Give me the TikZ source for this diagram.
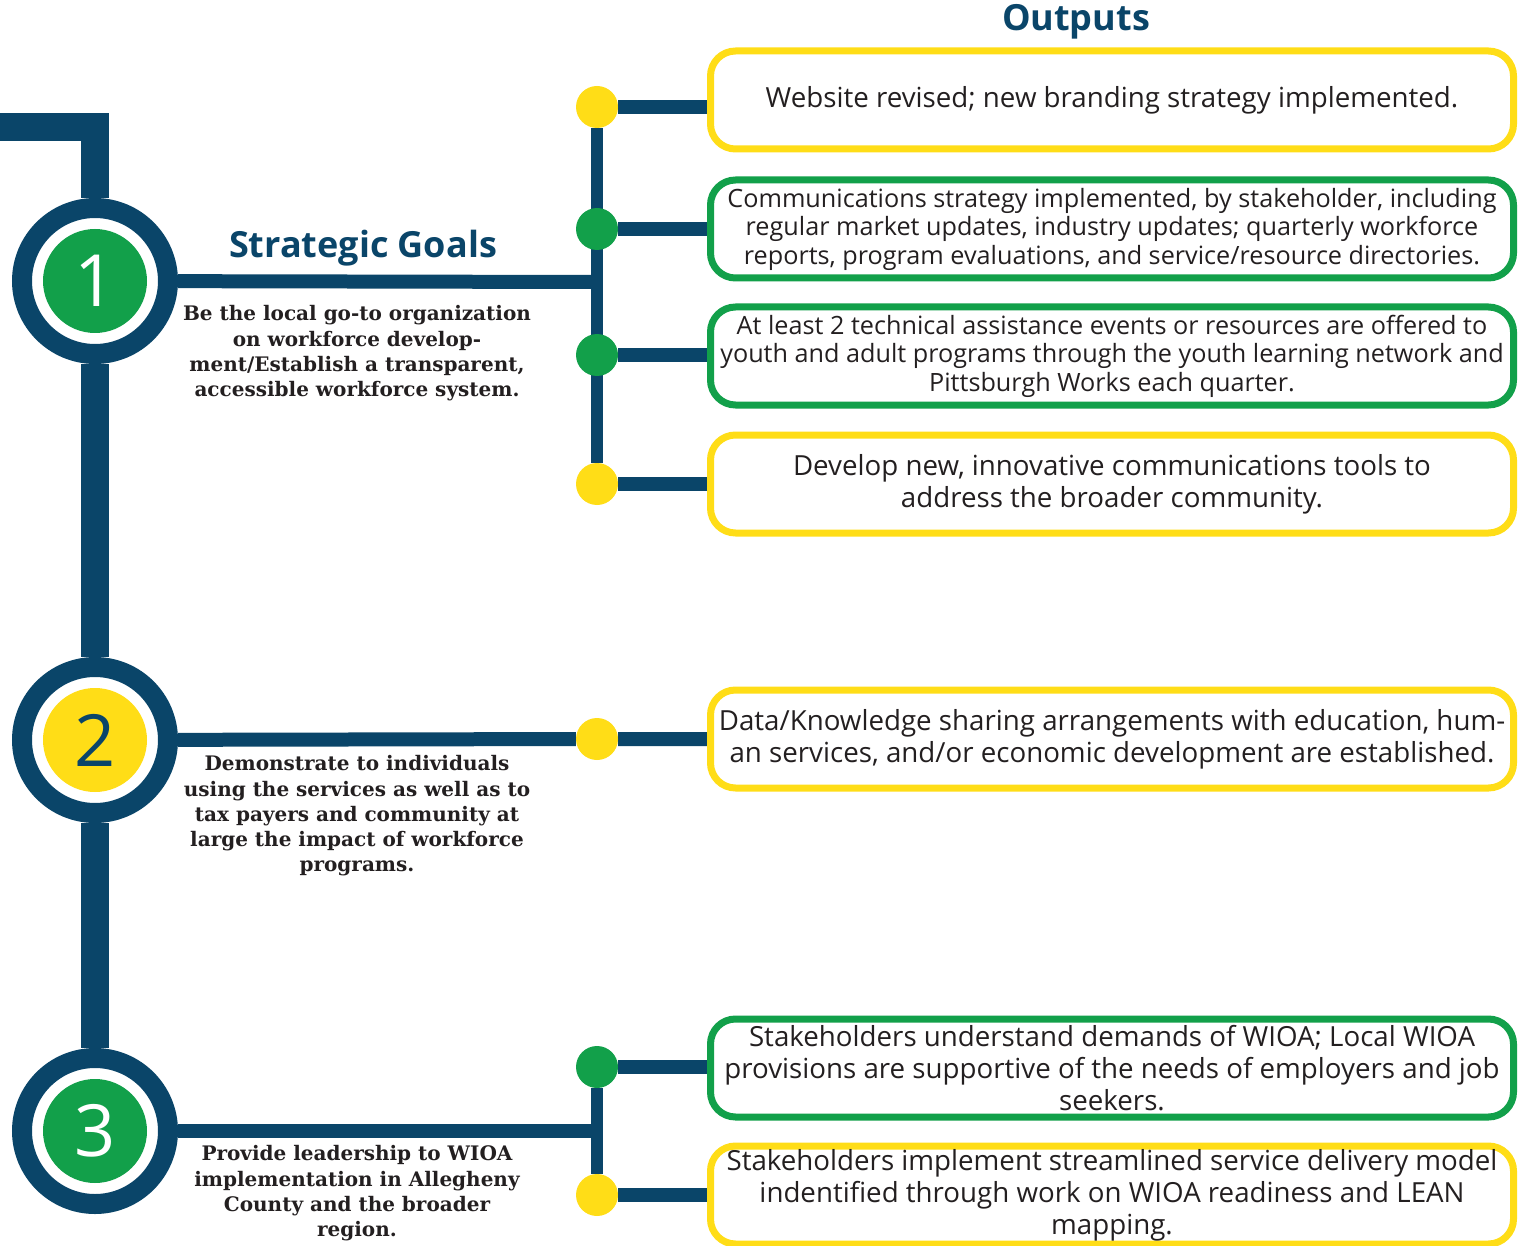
\documentclass[tikz,border=0pt]{standalone}
\usepackage{fontspec}
\setmainfont{DejaVu Serif}
\setsansfont{Open Sans}
\newfontfamily\headfont{Open Sans}
\usetikzlibrary{positioning,backgrounds}
\definecolor{navy}{RGB}{10,69,105}
\definecolor{leaf}{RGB}{18,160,74}
\definecolor{sun}{RGB}{255,221,23}
\definecolor{ink}{RGB}{35,31,32}

\begin{document}
\begin{tikzpicture}[x=1pt,y=-1pt,
  ring/.style={circle,draw=navy,line width=20pt,fill=white,minimum size=146pt,inner sep=0pt},
  num/.style={circle,minimum size=104pt,inner sep=0pt,font=\headfont\fontsize{72}{72}\selectfont},
  dot/.style={circle,minimum size=42pt,inner sep=0pt},
  outbox/.style={rounded corners=25pt,line width=7pt,minimum width=803pt,minimum height=98pt,align=center,text=ink,inner sep=0pt,font=\sffamily\fontsize{27.7}{32}\selectfont},
  smallbox/.style={font=\sffamily\fontsize{25.2}{28.5}\selectfont},
  goal/.style={align=center,anchor=north,text=ink,font=\bfseries\fontsize{20}{25.3}\selectfont},
  head/.style={text=navy,font=\headfont\bfseries\fontsize{36}{40}\selectfont},
  spine/.style={navy,line width=28pt},
  link/.style={navy,line width=14pt},
  twig/.style={navy,line width=12pt}]
\useasboundingbox (0,0) rectangle (1520,1246);

% headings
\node[head] (h1) at (363,248) {Strategic Goals};
\node[head] (h2) at (1076,22) {Outputs};

% goals
\node[ring] (g1) at (95,281) {};
\node[num,fill=leaf,text=white] (n1) at (g1) {1};
\node[ring] (g2) at (95,740) {};
\node[num,fill=sun,text=navy] (n2) at (g2) {2};
\node[ring] (g3) at (95,1131) {};
\node[num,fill=leaf,text=white] (n3) at (g3) {3};

\node[goal] (t1) at (357,302) {Be the local go-to organization\\on workforce develop-\\ment/Establish a transparent,\\accessible workforce system.};
\node[goal] (t2) at (357,752) {Demonstrate to individuals\\using the services as well as to\\tax payers and community at\\large the impact of workforce\\programs.};
\node[goal] (t3) at (357,1142) {Provide leadership to WIOA\\implementation in Allegheny\\County and the broader\\region.};

% outputs
\node[dot,fill=sun] (d1) at (597,107) {};
\node[dot,fill=leaf] (d2) at (597,229) {};
\node[dot,fill=leaf] (d3) at (597,355) {};
\node[dot,fill=sun] (d4) at (597,484) {};
\node[dot,fill=sun] (d5) at (597,739) {};
\node[dot,fill=leaf] (d6) at (597,1067) {};
\node[dot,fill=sun] (d7) at (597,1195) {};

\node[outbox,draw=sun] (o1) at (1112,100) {Website revised; new branding strategy implemented.};
\node[outbox,smallbox,draw=leaf] (o2) at (1112,229) {Communications strategy implemented, by stakeholder, including\\regular market updates, industry updates; quarterly workforce\\reports, program evaluations, and service/resource directories.};
\node[outbox,smallbox,draw=leaf] (o3) at (1112,356) {At least 2 technical assistance events or resources are offered to\\youth and adult programs through the youth learning network and\\Pittsburgh Works each quarter.};
\node[outbox,draw=sun] (o4) at (1112,484) {Develop new, innovative communications tools to\\address the broader community.};
\node[outbox,draw=sun] (o5) at (1112,739) {Data/Knowledge sharing arrangements with education, hum-\\an services, and/or economic development are established.};
\node[outbox,draw=leaf] (o6) at (1112,1068) {Stakeholders understand demands of WIOA; Local WIOA\\provisions are supportive of the needs of employers and job\\seekers.};
\node[outbox,draw=sun] (o7) at (1112,1195) {Stakeholders implement streamlined service delivery model\\indentified through work on WIOA readiness and LEAN\\mapping.};

\coordinate (top) at (0,127);
\coordinate (b1) at (597,282);
\coordinate (b3) at (597,1131);

\begin{scope}[on background layer]
\draw[spine] (top) -| (g1);
\draw[spine] (g1) -- (g2) -- (g3);
\draw[link] (g1) -- (b1);
\draw[twig] (d1) -- (d4);
\foreach \i in {1,...,4} \draw[link] (d\i) -- (d\i -| o\i.west);
\draw[link] (g2) -- (d5) -- (o5);
\draw[link] (g3) -- (b3);
\draw[twig] (d6) -- (d7);
\foreach \i in {6,7} \draw[link] (d\i) -- (d\i -| o\i.west);
\end{scope}
\end{tikzpicture}
\end{document}
